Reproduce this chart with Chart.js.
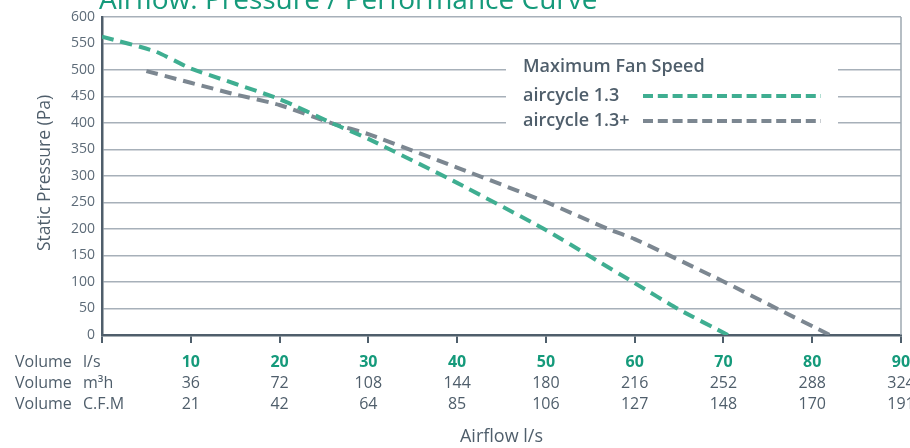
<!DOCTYPE html>
<html>
<head>
<meta charset="utf-8">
<script src="https://cdn.jsdelivr.net/npm/chart.js@4/dist/chart.umd.min.js"></script>
<style>
  html, body { margin: 0; padding: 0; background: #fff; }
  #wrap { width: 910px; height: 448px; position: relative; }
</style>
</head>
<body>
<div id="wrap"><canvas id="fanChart"></canvas></div>
<script>
// aircycle 1.3 curve (airflow l/s, static pressure Pa)
var flow13 = [0, 6, 10, 20, 26, 30, 40, 50, 55, 60, 65, 70.5];
var press13 = [563, 535, 503, 445, 399, 370, 287, 198, 148, 98, 48, 0];

// aircycle 1.3+ curve
var flow13p = [5, 15, 20, 26, 30, 40, 50, 57, 60, 70, 76, 82];
var press13p = [498, 454, 434, 399, 379, 316, 251, 200, 181, 101, 50, 0];

// x axis table rows
var flowLs = [10, 20, 30, 40, 50, 60, 70, 80, 90];
var flowM3h = [36, 72, 108, 144, 180, 216, 252, 288, 324];
var flowCfm = [21, 42, 64, 85, 106, 127, 148, 170, 191];

var seriesNames = ['aircycle 1.3', 'aircycle 1.3+'];
var chartTitle = 'Airflow: Pressure / Performance Curve';

var FONT = '"Open Sans", "Noto Sans", sans-serif';
var TEAL = '#159a7b';
var GREEN_LINE = '#3fae91';
var GREY_LINE = '#7c8791';
var TEXT = '#4f5e6b';

function toPoints(xs, ys) {
    return xs.map(function (x, i) { return { x: x, y: ys[i] }; });
}

// draws title, y title, table under x axis and the legend box
var extrasPlugin = {
    id: 'extras',
    beforeDatasetsDraw: function (chart) {
        var ctx = chart.ctx;
        var ca = chart.chartArea;
        // right border
        ctx.save();
        ctx.strokeStyle = '#9ea8b1';
        ctx.lineWidth = 1.5;
        ctx.beginPath();
        ctx.moveTo(ca.right, ca.top);
        ctx.lineTo(ca.right, ca.bottom);
        ctx.stroke();
        ctx.restore();
    },
    afterDraw: function (chart) {
        var ctx = chart.ctx;
        var xs = chart.scales.x;
        ctx.save();

        // title (cut off at the top like the source)
        ctx.fillStyle = TEAL;
        ctx.font = '28px ' + FONT;
        ctx.textAlign = 'left';
        ctx.textBaseline = 'alphabetic';
        ctx.fillText(chartTitle, 99, 9);

        // y title
        ctx.save();
        ctx.translate(45, 173);
        ctx.rotate(-Math.PI / 2);
        ctx.fillStyle = TEXT;
        ctx.font = '17.5px ' + FONT;
        ctx.textAlign = 'center';
        ctx.textBaseline = 'middle';
        ctx.fillText('Static Pressure (Pa)', 0, 0);
        ctx.restore();

        // table rows
        var rows = [
            { y: 362, head: 'l/s', vals: flowLs, bold: true },
            { y: 383, head: 'm³h', vals: flowM3h, bold: false },
            { y: 404, head: 'C.F.M', vals: flowCfm, bold: false }
        ];
        ctx.textBaseline = 'middle';
        rows.forEach(function (r) {
            ctx.font = '16px ' + FONT;
            ctx.fillStyle = TEXT;
            ctx.textAlign = 'left';
            ctx.fillText('Volume', 15, r.y);
            ctx.fillText(r.head, 83, r.y);
            ctx.textAlign = 'center';
            ctx.font = (r.bold ? 'bold ' : '') + '16px ' + FONT;
            ctx.fillStyle = r.bold ? TEAL : TEXT;
            r.vals.forEach(function (v, i) {
                ctx.fillText(String(v), xs.getPixelForValue(flowLs[i]), r.y);
            });
        });

        // x title
        ctx.font = '18px ' + FONT;
        ctx.fillStyle = TEXT;
        ctx.textAlign = 'center';
        ctx.fillText('Airflow l/s', (chart.chartArea.left + chart.chartArea.right) / 2, 437);

        // legend box
        ctx.fillStyle = '#ffffff';
        ctx.fillRect(506, 54, 332, 84);
        ctx.textAlign = 'left';
        ctx.fillStyle = TEXT;
        ctx.font = '600 18px ' + FONT;
        ctx.fillText('Maximum Fan Speed', 523, 67);
        var ds = chart.data.datasets;
        [96, 121].forEach(function (ly, i) {
            ctx.fillStyle = TEXT;
            ctx.font = '600 18px ' + FONT;
            ctx.fillText(ds[i].label, 523, ly);
            ctx.strokeStyle = ds[i].borderColor;
            ctx.lineWidth = 4;
            ctx.setLineDash([10, 4.8]);
            ctx.beginPath();
            ctx.moveTo(643, ly);
            ctx.lineTo(821, ly);
            ctx.stroke();
        });
        ctx.restore();
    }
};

var ctx = document.getElementById('fanChart').getContext('2d');
new Chart(ctx, {
    type: 'line',
    data: {
        datasets: [{
            label: seriesNames[0],
            data: toPoints(flow13, press13),
            borderColor: GREEN_LINE,
            borderWidth: 4,
            borderDash: [12, 7],
            pointRadius: 0,
            tension: 0.2,
            fill: false
        }, {
            label: seriesNames[1],
            data: toPoints(flow13p, press13p),
            borderColor: GREY_LINE,
            borderWidth: 4,
            borderDash: [12, 7],
            pointRadius: 0,
            tension: 0.2,
            fill: false
        }]
    },
    options: {
        responsive: true,
        maintainAspectRatio: false,
        animation: false,
        layout: {
            padding: { top: 17, right: 9, left: 0, bottom: 0 }
        },
        plugins: {
            legend: { display: false },
            tooltip: { enabled: false },
            title: { display: false }
        },
        scales: {
            x: {
                type: 'linear',
                min: 0,
                max: 90,
                afterFit: function (scale) { scale.height = 113; },
                border: {
                    color: '#4f5e6b',
                    width: 2.5
                },
                grid: {
                    drawOnChartArea: false,
                    drawTicks: true,
                    tickLength: 8,
                    tickColor: '#4f5e6b',
                    lineWidth: 2
                },
                ticks: {
                    display: false,
                    stepSize: 10
                }
            },
            y: {
                min: 0,
                max: 600,
                afterFit: function (scale) { scale.width = 102; },
                border: {
                    color: '#4f5e6b',
                    width: 2.5
                },
                grid: {
                    color: '#a7b0b9',
                    lineWidth: 1.5,
                    drawTicks: false
                },
                ticks: {
                    stepSize: 50,
                    padding: 7,
                    color: '#5d6b78',
                    font: {
                        family: FONT,
                        size: 14
                    }
                }
            }
        }
    },
    plugins: [extrasPlugin]
});
</script>
</body>
</html>
